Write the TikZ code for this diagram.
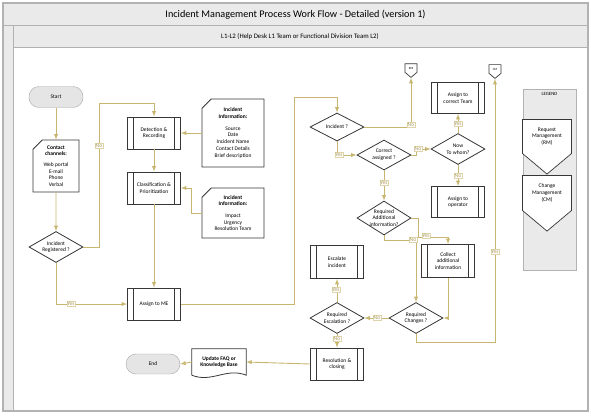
\documentclass[tikz,border=0pt]{standalone}
\usepackage{fontspec}
\setmainfont{Carlito}
\usetikzlibrary{shapes, positioning, arrows}

\definecolor{flow}{RGB}{200,182,112}
\definecolor{edge}{RGB}{55,55,55}
\definecolor{band}{RGB}{234,234,234}
\definecolor{frame}{RGB}{178,178,178}

\newcommand\boxfont{\fontsize{5.5}{6.7}\selectfont}
\newcommand\lblfont{\fontsize{5.6}{5.6}\selectfont}
\newcommand\tinyfont{\fontsize{3.2}{3.2}\selectfont}

\tikzset{
	proc/.style={
		draw=edge,
		line width=0.8pt,
		fill=white,
		minimum width=53pt,
		minimum height=32pt,
		inner sep=0,
		align=center,
		font=\boxfont,
		path picture={
			\draw[edge, line width=0.8pt] ([xshift=6pt]path picture bounding box.north west) -- ([xshift=6pt]path picture bounding box.south west);
			\draw[edge, line width=0.8pt] ([xshift=-6pt]path picture bounding box.north east) -- ([xshift=-6pt]path picture bounding box.south east);
		}
	},
	decide/.style={
		diamond,
		draw=edge,
		line width=0.8pt,
		fill=white,
		aspect=1.75,
		minimum width=54pt,
		minimum height=31pt,
		inner sep=-1pt,
		align=center,
		font=\boxfont
	},
	term/.style={
		draw=gray!70,
		fill=gray!20,
		rounded corners=10pt,
		minimum width=54pt,
		minimum height=21pt,
		font=\boxfont
	},
	card/.style={
		chamfered rectangle,
		chamfered rectangle corners=north west,
		chamfered rectangle xsep=6pt,
		draw=edge,
		line width=0.8pt,
		fill=white,
		inner sep=0,
		align=center,
		font=\boxfont
	},
	offpage/.style={
		signal,
		signal to=south,
		signal from=nowhere,
		signal pointer angle=100,
		draw=edge,
		line width=0.7pt,
		fill=white,
		inner sep=0.5pt,
		font=\tinyfont
	},
	flowline/.style={
		draw=flow,
		line width=0.9pt,
		-latex
	},
	lbl/.style={
		fill=white,
		draw=flow!60,
		line width=0.3pt,
		text=flow!85!black,
		font=\lblfont,
		inner sep=0.6pt
	}
}

\begin{document}
\begin{tikzpicture}[x=1pt, y=-1pt]
	\useasboundingbox (0,0) rectangle (591,416);

	\fill[band] (3,3) rectangle (588,47);
	\fill[band] (3,47) rectangle (13,411);
	\draw[frame, line width=1.2pt] (3,3) rectangle (588,411);
	\draw[frame, line width=1pt] (3,25) -- (588,25);
	\draw[frame, line width=1pt] (13,47) -- (588,47);
	\draw[frame, line width=1pt] (13,25) -- (13,411);
	\node (title) at (295.5,14.5) {\fontsize{10.2}{12}\selectfont Incident Management Process Work Flow - Detailed (version 1)};
	\node (lane) at (300,36.5) {\fontsize{6.8}{8}\selectfont L1-L2 (Help Desk L1 Team or Functional Division Team L2)};

	\node[term] (start) at (56,97) {Start};
	\node[card, minimum width=46pt, minimum height=52pt] (contact) at (56,166) {\textbf{Contact}\\\textbf{channels:}\\[4pt]Web portal\\E-mail\\Phone\\Verbal};
	\node[decide] (reg) at (56,247) {Incident\\Registered ?};

	\node[proc] (detect) at (154,133) {Detection \&\\Recording};
	\node[proc] (classify) at (154,188) {Classification \&\\Prioritization};
	\node[proc] (assign) at (154,304) {Assign to ME};
	\node[card, minimum width=62pt, minimum height=68pt] (info1) at (233,133) {\textbf{Incident}\\\textbf{Information:}\\[5pt]Source\\Date\\Incident Name\\Contact Details\\Brief description};
	\node[card, minimum width=62pt, minimum height=50pt] (info2) at (233,213) {\textbf{Incident}\\\textbf{Information:}\\[5pt]Impact\\Urgency\\Resolution Team};

	\node[decide, minimum height=28pt, aspect=1.9] (inc) at (337,127) {Incident ?};
	\node[offpage, minimum width=12pt, minimum height=11pt] (rm) at (411,68) {RM};
	\node[decide, minimum height=30pt] (cas) at (384,155) {Correct\\assigned ?};
	\node[proc, minimum height=31pt] (team) at (458,98) {Assign to\\correct Team};
	\node[decide] (now) at (458,149) {Now\\To whom?};
	\node[proc, minimum height=31pt] (oper) at (458,202) {Assign to\\operator};
	\node[offpage, minimum width=12pt, minimum height=11pt] (cm) at (495,69) {CM};
	\node[decide, minimum height=34pt, aspect=1.6, inner sep=-4pt] (addinfo) at (384,218) {Required\\Additional\\information?};
	\node[proc, minimum height=33pt] (collect) at (448,261) {Collect\\additional\\information};
	\node[decide] (chg) at (416,318) {Required\\Changes ?};
	\node[decide] (esc) at (337,318) {Required\\Escalation ?};
	\node[proc, minimum height=33pt] (escalate) at (337,262) {Escalate\\incident};
	\node[proc] (res) at (337,364) {Resolution \&\\closing};
	\node[minimum width=54pt, minimum height=26pt, inner sep=0, align=center, font=\boxfont] (faq) at (219,362) {\textbf{Update FAQ or}\\\textbf{Knowledge Base}};
	\draw[edge, line width=0.8pt] (faq.south west) -- (faq.north west) -- (faq.north east) -- (faq.south east) .. controls +(-20,-8) and +(20,8) .. (faq.south west);
	\node[term, minimum height=20pt] (end) at (153,364) {End};

	\fill[band] (523,89) rectangle (576,270);
	\draw[frame, line width=0.6pt] (523,89) rectangle (576,270);
	\node[font=\fontsize{4.8}{5}\selectfont] (legend) at (549.5,94) {LEGEND};
	\node[offpage, minimum width=49pt, minimum height=47pt, align=center, font=\boxfont] (lrm) at (547,136.5) {Request\\Management\\(RM)};
	\node[offpage, minimum width=49pt, minimum height=48pt, align=center, font=\boxfont] (lcm) at (547,193) {Change\\Management\\(CM)};

	\coordinate (regup) at (99,103);
	\coordinate (assup) at (294,97);
	\coordinate (yesturn) at (418,237);
	\draw[flowline] (start) -- (contact);
	\draw[flowline] (contact) -- (reg);
	\draw[flowline] (reg.east) -| (regup) -| (detect.north);
	\draw[flowline] (reg.south) |- (assign.west);
	\draw[flowline] (info1.west) -- (detect.east);
	\draw[flowline] (info2.west) -- ++(-10,0) |- (classify.east);
	\draw[flowline] (detect) -- (classify);
	\draw[flowline] (classify) -- (assign);
	\draw[flowline] (assign.east) -| (assup) -| (inc.north);
	\draw[flowline] (inc.east) -| (rm.south);
	\draw[flowline] (inc.south) |- (cas.west);
	\draw[flowline] (cas.east) -- ++(5,0) |- (now.west);
	\draw[flowline] (now.north) -- (team.south);
	\draw[flowline] (now.south) -- (oper.north);
	\draw[flowline] (cas.south) -- (addinfo.north);
	\draw[flowline] (addinfo.east) -| (yesturn) -| (collect.north);
	\draw[flowline] (addinfo.south) -- ++(0,5) -| (chg.north);
	\draw[flowline] (collect.south) |- (chg.east);
	\draw[flowline] (chg.south) -- ++(0,9) -| (cm.south);
	\draw[flowline] (chg.west) -- (esc.east);
	\draw[flowline] (esc.north) -- (escalate.south);
	\draw[flowline] (esc.south) -- (res.north);
	\draw[flowline] (res.west) -- (faq.east);
	\draw[flowline] (faq.west) -- (end.east);

	\node[lbl] (l1) at (99,146) {No};
	\node[lbl] (l2) at (71,304) {Yes};
	\node[lbl] (l3) at (411,125) {No};
	\node[lbl] (l4) at (339,155) {Yes};
	\node[lbl] (l5) at (418,149) {No};
	\node[lbl] (l6) at (458,124) {Yes};
	\node[lbl] (l7) at (458,176) {No};
	\node[lbl] (l8) at (384,183) {Yes};
	\node[lbl] (l9) at (426,236) {Yes};
	\node[lbl] (l10) at (413,240) {No};
	\node[lbl] (l11) at (495,252) {Yes};
	\node[lbl] (l12) at (377,318) {No};
	\node[lbl] (l13) at (336,290) {Yes};
	\node[lbl] (l14) at (337,339) {No};
\end{tikzpicture}
\end{document}
